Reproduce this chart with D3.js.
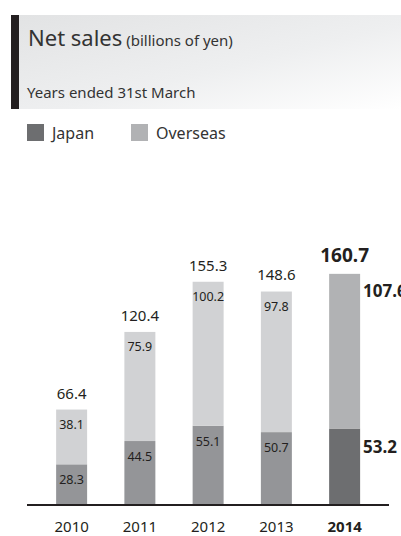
<!DOCTYPE html>
<html><head><meta charset="utf-8">
<script src="https://cdn.jsdelivr.net/npm/d3@7"></script>
<style>body{margin:0;background:#fff;} svg{display:block;font-family:"Noto Sans",sans-serif;}</style>
</head><body>
<svg id="c" width="401" height="536"></svg>
<script>
const years = ["2010","2011","2012","2013","2014"];
const japan = [28.3, 44.5, 55.1, 50.7, 53.2];
const overseas = [38.1, 75.9, 100.2, 97.8, 107.6];
const totals = [66.4, 120.4, 155.3, 148.6, 160.7];
const seriesNames = ["Japan", "Overseas"];

const svg = d3.select("#c");
const defs = svg.append("defs");
const g = defs.append("linearGradient").attr("id","hdr").attr("x1","0").attr("y1","0").attr("x2","1").attr("y2","1");
g.append("stop").attr("offset","0").attr("stop-color","#e2e3e4");
g.append("stop").attr("offset","0.55").attr("stop-color","#eeeff0");
g.append("stop").attr("offset","1").attr("stop-color","#ffffff");

svg.append("rect").attr("x",19).attr("y",15).attr("width",382).attr("height",94).attr("fill","url(#hdr)");
svg.append("rect").attr("x",11).attr("y",15).attr("width",8).attr("height",94).attr("fill","#231f20");

const title = svg.append("text").attr("x",28).attr("y",46).attr("fill","#333");
title.append("tspan").attr("font-size",22).text("Net sales");
title.append("tspan").attr("font-size",15).text(" (billions of yen)");
svg.append("text").attr("x",27).attr("y",98).attr("font-size",15).attr("fill","#333").text("Years ended 31st March");

// legend
const legColors = ["#6d6e70","#b1b2b4"];
const legX = [27, 131];
seriesNames.forEach((n,i)=>{
  svg.append("rect").attr("x",legX[i]).attr("y",124).attr("width",17).attr("height",17).attr("fill",legColors[i]);
  svg.append("text").attr("x",legX[i]+25).attr("y",139).attr("font-size",16).attr("fill","#333").text(n);
});

const x = d3.scaleBand().domain(years).range([37.5, 378.75]).paddingInner(0.546).paddingOuter(0.273);
const y = d3.scaleLinear().domain([0, 180]).range([505, 505 - 180*1.4375]);
const isLast = i => i === years.length - 1;

const data = years.map((yr,i)=>({yr, j:japan[i], o:overseas[i], t:totals[i], i}));

svg.selectAll(".bj").data(data).join("rect")
  .attr("x",d=>x(d.yr)).attr("width",x.bandwidth())
  .attr("y",d=>y(d.j)).attr("height",d=>y(0)-y(d.j))
  .attr("fill",d=>isLast(d.i)?"#6d6e70":"#949598");
svg.selectAll(".bo").data(data).join("rect")
  .attr("x",d=>x(d.yr)).attr("width",x.bandwidth())
  .attr("y",d=>y(d.j+d.o)).attr("height",d=>y(d.j)-y(d.j+d.o))
  .attr("fill",d=>isLast(d.i)?"#b1b2b4":"#d1d2d4");

// axis baseline
svg.append("line").attr("x1",27).attr("x2",389).attr("y1",y(0)).attr("y2",y(0)).attr("stroke","#231f20").attr("stroke-width",2);

// x axis labels
const xa = svg.append("g").attr("transform",`translate(0,${y(0)})`).call(d3.axisBottom(x).tickSize(0).tickPadding(0));
xa.select(".domain").remove();
xa.selectAll("text").attr("dy",null).attr("y",27).attr("font-size",15).attr("fill","#231f20")
  .attr("font-family","Noto Sans, sans-serif")
  .attr("font-weight",(d,i)=>isLast(i)?"bold":"normal");

const cx = d => x(d.yr) + x.bandwidth()/2;
const normal = data.filter(d=>!isLast(d.i));
const last = data.filter(d=>isLast(d.i));

// totals
svg.selectAll(".tot").data(normal).join("text")
  .attr("x",cx).attr("y",d=>y(d.t)-11).attr("text-anchor","middle")
  .attr("font-size",15).attr("fill","#231f20").text(d=>d.t.toFixed(1));
svg.selectAll(".totl").data(last).join("text")
  .attr("x",cx).attr("y",d=>y(d.t)-12).attr("text-anchor","middle")
  .attr("font-size",19).attr("font-weight","bold").attr("fill","#231f20").text(d=>d.t.toFixed(1));

// inner labels
svg.selectAll(".io").data(normal).join("text")
  .attr("x",cx).attr("y",d=>y(d.j+d.o)+19).attr("text-anchor","middle")
  .attr("font-size",12.5).attr("fill","#231f20").text(d=>d.o.toFixed(1));
svg.selectAll(".ij").data(normal).join("text")
  .attr("x",cx).attr("y",d=>y(d.j)+20).attr("text-anchor","middle")
  .attr("font-size",12.5).attr("fill","#231f20").text(d=>d.j.toFixed(1));

// side labels for last year
svg.selectAll(".so").data(last).join("text")
  .attr("x",d=>x(d.yr)+x.bandwidth()+3).attr("y",d=>y(d.j+d.o)+23)
  .attr("font-size",17).attr("font-weight","bold").attr("fill","#231f20").text(d=>d.o.toFixed(1));
svg.selectAll(".sj").data(last).join("text")
  .attr("x",d=>x(d.yr)+x.bandwidth()+3).attr("y",d=>y(d.j)+24)
  .attr("font-size",17).attr("font-weight","bold").attr("fill","#231f20").text(d=>d.j.toFixed(1));
</script>
</body></html>
